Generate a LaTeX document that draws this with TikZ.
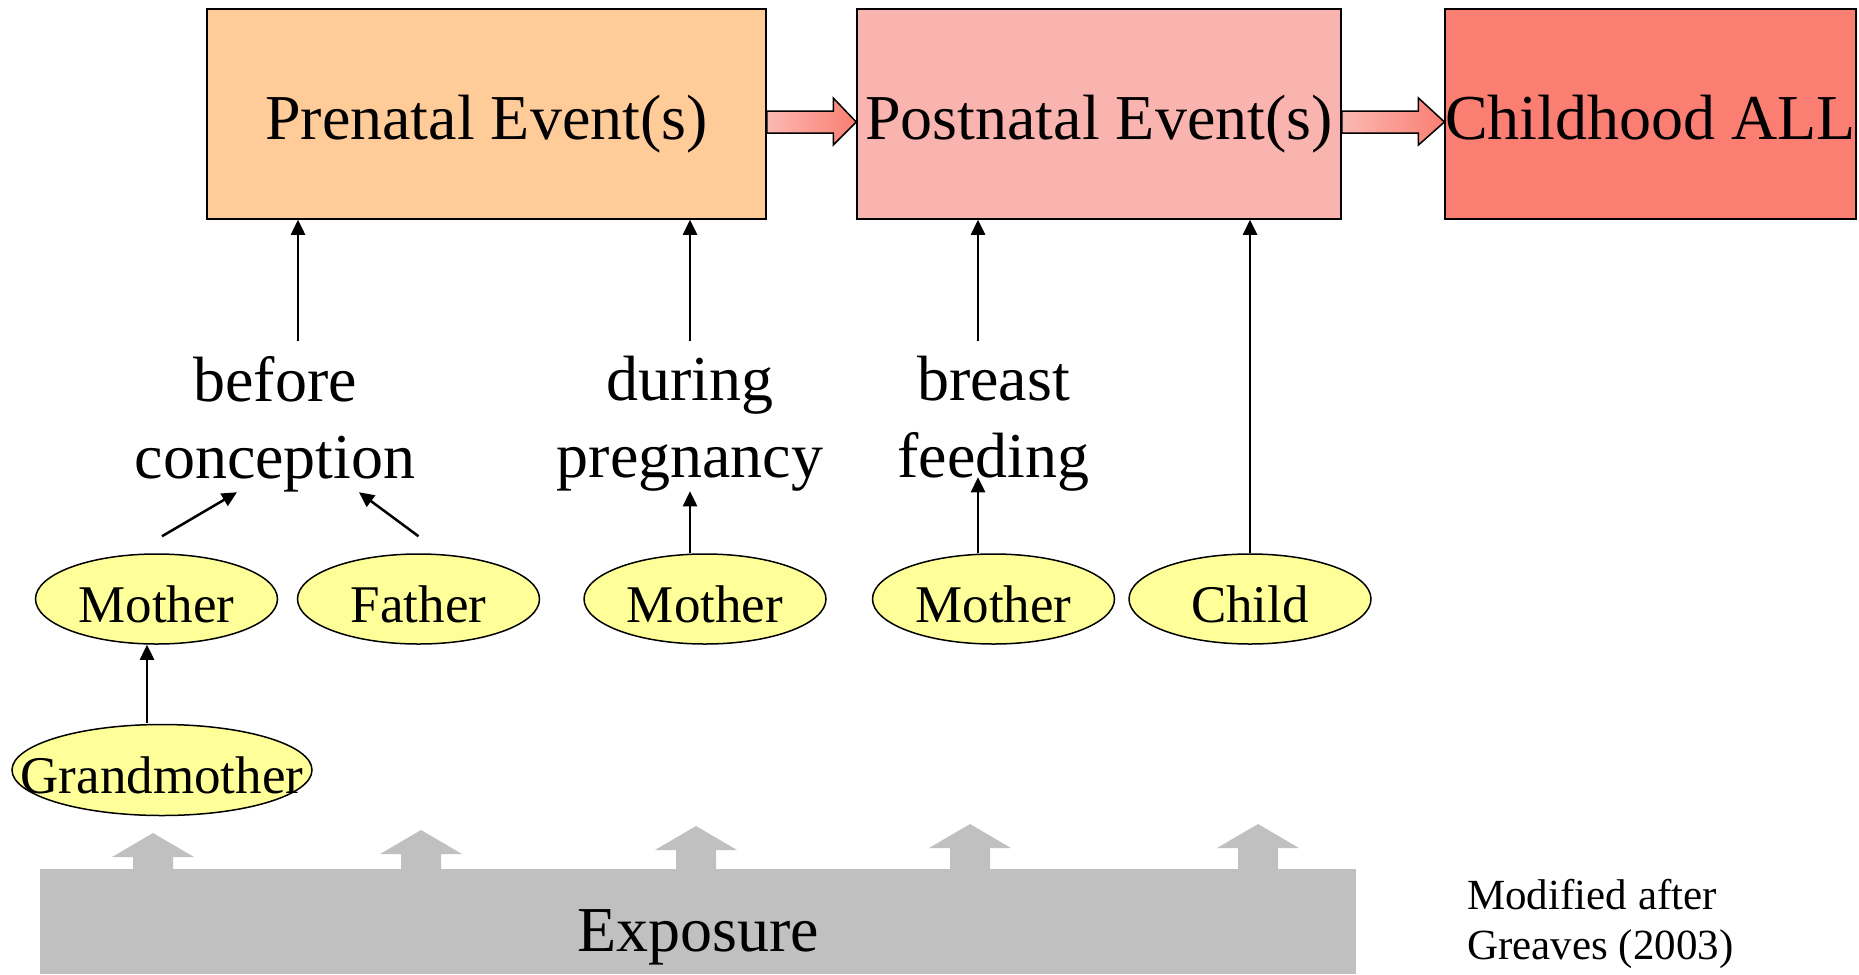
\documentclass[tikz,border=0pt]{standalone}
\usepackage{fontspec}
\setmainfont{Liberation Serif}
\usetikzlibrary{arrows.meta,calc,shapes.geometric}
\definecolor{prefill}{HTML}{FFCC99}
\definecolor{postfill}{HTML}{FAB4AF}
\definecolor{chfill}{HTML}{FA7E72}
\definecolor{arrL}{HTML}{FBB9B3}
\definecolor{arrR}{HTML}{FA7E72}
\definecolor{ellfill}{HTML}{FFFF99}
\definecolor{expogray}{HTML}{C0C0C0}
\begin{document}
\begin{tikzpicture}[x=1pt,y=-1pt,
 evbox/.style={draw=black, line width=1.5pt, inner sep=0pt, minimum height=210pt, text height=50pt, text depth=0pt, font=\fontsize{64}{77}\selectfont},
 ell/.style={ellipse, draw=black, line width=1.5pt, fill=ellfill, inner sep=0pt, minimum width=242pt, minimum height=90pt, text height=46pt, text depth=0pt, font=\fontsize{53}{64}\selectfont},
 lbl/.style={align=center, inner sep=0pt, anchor=north, font=\fontsize{64}{77}\selectfont},
 arr/.style={line width=2.5pt, -{Triangle[length=15pt,width=14pt]}},
 fatarr/.style={draw=black, line width=1.5pt, left color=arrL, right color=arrR},
 expoarr/.style={fill=expogray}]
\useasboundingbox (0,0) rectangle (1859,974);

% event boxes
\node[evbox, fill=prefill, minimum width=559pt] (pre) at (486.5,114) {Prenatal Event(s)};
\node[evbox, fill=postfill, minimum width=484pt] (post) at (1099,114) {Postnatal Event(s)};
\node[evbox, fill=chfill, minimum width=409pt] (child) at (1650.5,114) {Childhood ALL};

% fat shaded arrows
\path[fatarr] ($(pre.east)+(0,-3)$) -- ($(post.west)+(-23,-3)$) -- ($(post.west)+(-23,-16)$) -- ($(post.west)+(0,8)$) -- ($(post.west)+(-23,31)$) -- ($(post.west)+(-23,19)$) -- ($(pre.east)+(0,19)$) -- cycle;
\path[fatarr] ($(post.east)+(0,-3)$) -- ($(child.west)+(-26,-3)$) -- ($(child.west)+(-26,-16)$) -- ($(child.west)+(0,8)$) -- ($(child.west)+(-26,31)$) -- ($(child.west)+(-26,19)$) -- ($(post.east)+(0,19)$) -- cycle;

% labels
\node[lbl] (bc) at (275,356) {before\\conception};
\node[lbl] (dp) at (690,356) {during\\pregnancy};
\node[lbl] (bf) at (993.5,356) {breast\\feeding};

% ellipses
\node[ell] (m1) at (156.5,599) {Mother};
\node[ell] (fa) at (418.5,599) {Father};
\node[ell] (m2) at (705,599) {Mother};
\node[ell] (m3) at (993.5,599) {Mother};
\node[ell] (ch) at (1250,599) {Child};
\node[ell, inner xsep=-37pt, minimum width=300pt, minimum height=91pt] (gm) at (162,770) {Grandmother};

% connectors
\draw[arr] ($(pre.south)+(-188.5,121)$) -- ($(pre.south)+(-188.5,0)$);
\draw[arr] ($(pre.south)+(203.5,121)$) -- ($(pre.south)+(203.5,0)$);
\draw[arr] ($(post.south)+(-121,121)$) -- ($(post.south)+(-121,0)$);
\draw[arr] (ch.north) -- (ch.north |- post.south);
\draw[arr] ($(m3.north)+(-15.5,0)$) -- ($(m3.north)+(-15.5,-76)$);
\draw[arr] ($(m2.north)+(-15,0)$) -- ($(m2.north)+(-15,-62)$);
\draw[arr] ($(m1.north)+(5.5,-17)$) -- ($(m1.north)+(80.5,-61)$);
\draw[arr] ($(fa.north)+(0,-17)$) -- ($(fa.north)+(-59.5,-61)$);
\draw[arr] ($(m1.south)+(-9.5,78)$) -- ($(m1.south)+(-9.5,0)$);

% exposure
\fill[expogray] (40,869) rectangle (1356,974);
\foreach \cx/\ty in {153/833, 421/830, 696/826, 970/824, 1258/824}
  \fill[expoarr] ({\cx-20},870) -- ({\cx-20},{\ty+24}) -- ({\cx-41},{\ty+24}) -- (\cx,\ty) -- ({\cx+41},{\ty+24}) -- ({\cx+20},{\ty+24}) -- ({\cx+20},870) -- cycle;
\node[anchor=base, inner sep=0pt, font=\fontsize{64}{77}\selectfont] (expo) at (698,951) {Exposure};

\node[anchor=north west, align=left, inner sep=0pt, font=\fontsize{43}{50}\selectfont] (src) at (1467,879) {Modified after\\Greaves (2003)};
\end{tikzpicture}
\end{document}
